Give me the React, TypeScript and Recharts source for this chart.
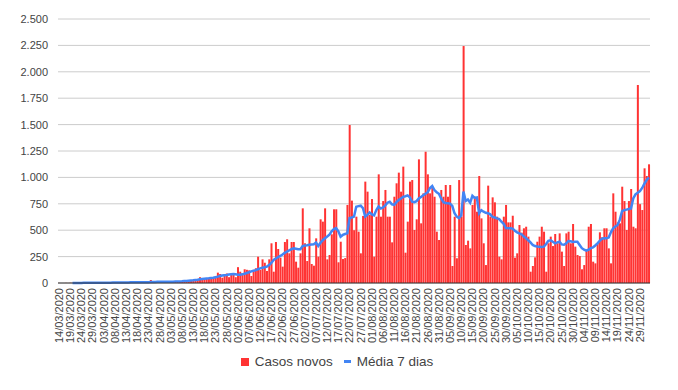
import React from 'react';
import { ComposedChart, Bar, Line, XAxis, YAxis, CartesianGrid } from 'recharts';

// casos novos por dia, a partir de 14/03/2020
const casosNovos = [
  1, 0, 0, 1, 0, 2, 1, 0, 1, 2,
  1, 3, 2, 1, 0, 2, 3, 1, 2, 4,
  3, 2, 5, 4, 3, 6, 5, 4, 7, 5,
  6, 8, 5, 7, 9, 6, 8, 10, 7, 9,
  12, 28, 9, 11, 8, 13, 10, 12, 9, 14,
  11, 15, 13, 18, 16, 20, 22, 19, 25, 28,
  30, 35, 32, 55, 40, 45, 42, 48, 44, 50,
  60, 98, 85, 50, 85, 90, 55, 80, 90, 55,
  150, 107, 75, 130, 125, 120, 66, 123, 139, 249,
  123, 224, 192, 114, 224, 376, 107, 388, 322, 240,
  155, 388, 414, 281, 388, 388, 202, 145, 281, 707,
  376, 208, 518, 180, 164, 423, 249, 603, 581, 707,
  224, 265, 461, 698, 698, 196, 391, 227, 236, 739,
  1496, 780, 500, 628, 486, 281, 635, 960, 865, 644,
  795, 249, 628, 1029, 628, 776, 881, 628, 628, 385,
  817, 944, 1045, 865, 1102, 287, 581, 960, 975, 502,
  603, 1171, 565, 849, 1243, 1029, 849, 912, 817, 486,
  407, 881, 817, 928, 817, 928, 161, 628, 234, 975,
  628, 2244, 360, 401, 328, 739, 817, 675, 1013, 612,
  376, 170, 922, 628, 811, 764, 628, 249, 224, 628,
  739, 574, 574, 637, 240, 281, 549, 477, 518, 533,
  439, 107, 161, 243, 391, 439, 533, 486, 107, 376,
  439, 350, 464, 376, 470, 297, 161, 470, 486, 376,
  559, 344, 265, 255, 130, 170, 312, 533, 559, 202,
  186, 376, 480, 433, 518, 518, 328, 186, 849, 675,
  574, 565, 912, 776, 502, 776, 890, 533, 518, 1875,
  747, 691, 1086, 1013, 1124,
];

// média móvel de 7 dias
const media7Dias: (number | null)[] = [
  null, null, null, null, null, null, 1, 1, 1, 1,
  1, 2, 2, 2, 2, 2, 2, 3, 3, 3,
  3, 3, 3, 3, 4, 4, 4, 4, 5, 5,
  5, 5, 6, 6, 6, 6, 6, 7, 7, 7,
  8, 9, 10, 10, 11, 11, 11, 12, 12, 12,
  13, 13, 14, 14, 15, 16, 18, 19, 21, 23,
  25, 28, 31, 35, 38, 40, 42, 44, 47, 50,
  55, 60, 66, 70, 73, 76, 80, 83, 85, 82,
  79, 78, 82, 88, 95, 102, 110, 116, 122, 130,
  138, 145, 150, 155, 170, 190, 218, 232, 245, 256,
  270, 285, 297, 310, 320, 328, 325, 320, 319, 350,
  355, 358, 362, 365, 366, 382, 350, 380, 405, 423,
  440, 458, 490, 510, 520, 490, 438, 455, 464, 470,
  615, 620, 628, 722, 728, 732, 710, 628, 645, 668,
  650, 640, 690, 725, 705, 715, 735, 760, 770, 745,
  740, 765, 786, 800, 815, 822, 830, 810, 770, 765,
  775, 800, 815, 830, 845, 860, 900, 918, 880, 860,
  845, 800, 765, 758, 755, 752, 730, 660, 628, 615,
  640, 865, 776, 790, 760, 825, 805, 810, 660, 690,
  675, 665, 660, 650, 625, 620, 612, 605, 580, 560,
  520, 518, 518, 515, 495, 480, 470, 462, 440, 423,
  405, 385, 360, 350, 345, 344, 342, 344, 370, 400,
  405, 390, 376, 385, 391, 365, 362, 375, 398, 395,
  388, 390, 391, 360, 330, 315, 306, 315, 330, 338,
  355, 376, 400, 420, 423, 423, 430, 480, 518, 535,
  549, 600, 680, 690, 695, 700, 705, 800, 840, 855,
  870, 900, 940, 975, 1000,
];

const yTicks = [0, 250, 500, 750, 1000, 1250, 1500, 1750, 2000, 2250, 2500];

const pad = (n: number) => (n < 10 ? '0' + n : String(n));
const datas = casosNovos.map((_, i) => {
  const d = new Date(Date.UTC(2020, 2, 14 + i));
  return `${pad(d.getUTCDate())}/${pad(d.getUTCMonth() + 1)}/${d.getUTCFullYear()}`;
});

const data = datas.map((dia, i) => ({
  dia,
  casos: casosNovos[i],
  media: media7Dias[i],
}));

const fmt = (v: number) => String(v).replace(/\B(?=(\d{3})+(?!\d))/g, '.');

const FONT = "Arial, 'Liberation Sans', sans-serif";

const DateTick = (props: any) => {
  const { x, y, payload } = props;
  return (
    <text
      transform={`translate(${x},${y}) rotate(-90)`}
      x={-5}
      dy="0.35em"
      textAnchor="end"
      fontSize={11}
      fontFamily={FONT}
      fill="#444"
    >
      {payload.value}
    </text>
  );
};

export default function App() {
  return (
    <div style={{ position: 'absolute', left: 0, top: 0, width: 678, height: 390, background: '#fff' }}>
      <ComposedChart
        width={678}
        height={390}
        data={data}
        margin={{ top: 19, right: 28, left: 0, bottom: 45 }}
        barCategoryGap="12%"
      >
        <CartesianGrid vertical={false} stroke="#cccccc" />
        <XAxis
          dataKey="dia"
          interval={4}
          height={62}
          tickSize={0}
          tickMargin={0}
          tick={<DateTick />}
          axisLine={{ stroke: '#333', strokeWidth: 1 }}
        />
        <YAxis
          width={58}
          domain={[0, 2500]}
          ticks={yTicks}
          tickFormatter={fmt}
          axisLine={false}
          tickLine={false}
          tickSize={0}
          tickMargin={10}
          tick={{ fontSize: 11, fontFamily: FONT, fill: '#444' }}
        />
        <Bar dataKey="casos" fill="#ff3333" isAnimationActive={false} />
        <Line
          type="linear"
          dataKey="media"
          stroke="#4285f4"
          strokeWidth={2.5}
          dot={false}
          isAnimationActive={false}
        />
      </ComposedChart>
      <div
        style={{
          position: 'absolute',
          top: 354,
          left: 0,
          width: 678,
          display: 'flex',
          justifyContent: 'center',
          alignItems: 'center',
          fontFamily: FONT,
          fontSize: 13.5,
          color: '#444',
          paddingRight: 4,
          boxSizing: 'border-box',
        }}
      >
        <span style={{ display: 'inline-block', width: 8, height: 8, background: '#ff3333', marginRight: 6 }} />
        <span>Casos novos</span>
        <span style={{ display: 'inline-block', width: 7, height: 3, background: '#4285f4', marginLeft: 11, marginRight: 6 }} />
        <span>Média 7 dias</span>
      </div>
    </div>
  );
}
